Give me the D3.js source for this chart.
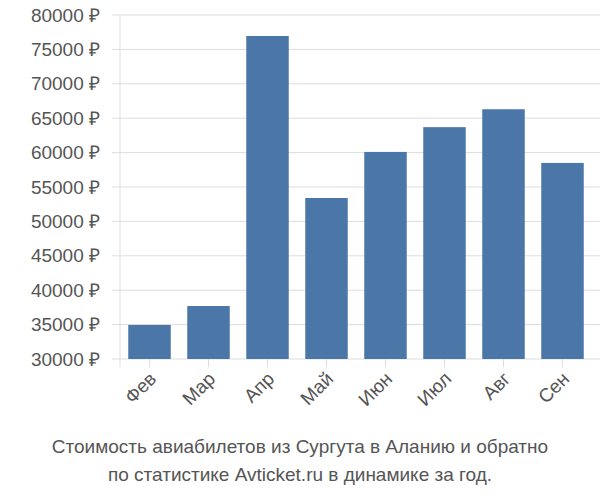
<!DOCTYPE html>
<html><head><meta charset="utf-8">
<script src="https://cdn.jsdelivr.net/npm/d3@7"></script>
<style>body{margin:0;background:#fff}</style>
</head><body><svg id="c" width="600" height="500"></svg>
<script>
const months = ["Фев","Мар","Апр","Май","Июн","Июл","Авг","Сен"];
const prices = [34950, 37700, 76950, 53400, 60100, 63700, 66300, 58500];
const ticks = [30000,35000,40000,45000,50000,55000,60000,65000,70000,75000,80000];

const svg = d3.select("#c");
const x = d3.scaleBand().domain(months).range([120, 592]).paddingInner(0.28).paddingOuter(0.14);
const y = d3.scaleLinear().domain([30000, 80000]).range([359, 15]);

// grid
svg.append("g").selectAll("line").data(ticks).join("line")
  .attr("x1", 112).attr("x2", 600)
  .attr("y1", d => y(d)).attr("y2", d => y(d))
  .attr("stroke", "#ddd");
svg.append("line").attr("x1",120).attr("x2",120).attr("y1",15).attr("y2",367).attr("stroke","#ddd");

svg.append("g").selectAll("text").data(ticks).join("text")
  .attr("x", 100).attr("y", d => y(d)).attr("dy", "0.35em")
  .attr("text-anchor", "end").attr("fill", "#555")
  .style("font", "19px 'Liberation Sans', Arial, sans-serif")
  .text(d => d + " ₽");

svg.append("g").selectAll("rect").data(prices).join("rect")
  .attr("x", (d, i) => x(months[i])).attr("width", x.bandwidth())
  .attr("y", d => y(d)).attr("height", d => y(30000) - y(d))
  .attr("fill", "#4a76a8");

// bottom ticks
const step = x.step();
svg.append("g").selectAll("line").data(months).join("line")
  .attr("x1", d => x(d) + x.bandwidth()/2).attr("x2", d => x(d) + x.bandwidth()/2)
  .attr("y1", 359).attr("y2", 367).attr("stroke", "#ddd");

svg.append("g").selectAll("text").data(months).join("text")
  .attr("transform", d => `translate(${x(d) + x.bandwidth()/2 + 8},${380}) rotate(-45)`)
  .attr("text-anchor", "end").attr("fill", "#555")
  .style("font", "19px 'Liberation Sans', Arial, sans-serif")
  .text(d => d);

const title = ["Стоимость авиабилетов из Сургута в Аланию и обратно", "по статистике Avticket.ru в динамике за год."];
svg.append("g").selectAll("text").data(title).join("text")
  .attr("x", 300).attr("y", (d, i) => 453 + i * 28)
  .attr("text-anchor", "middle").attr("fill", "#555")
  .style("font", "19px 'Liberation Sans', Arial, sans-serif")
  .text(d => d);
</script></body></html>
